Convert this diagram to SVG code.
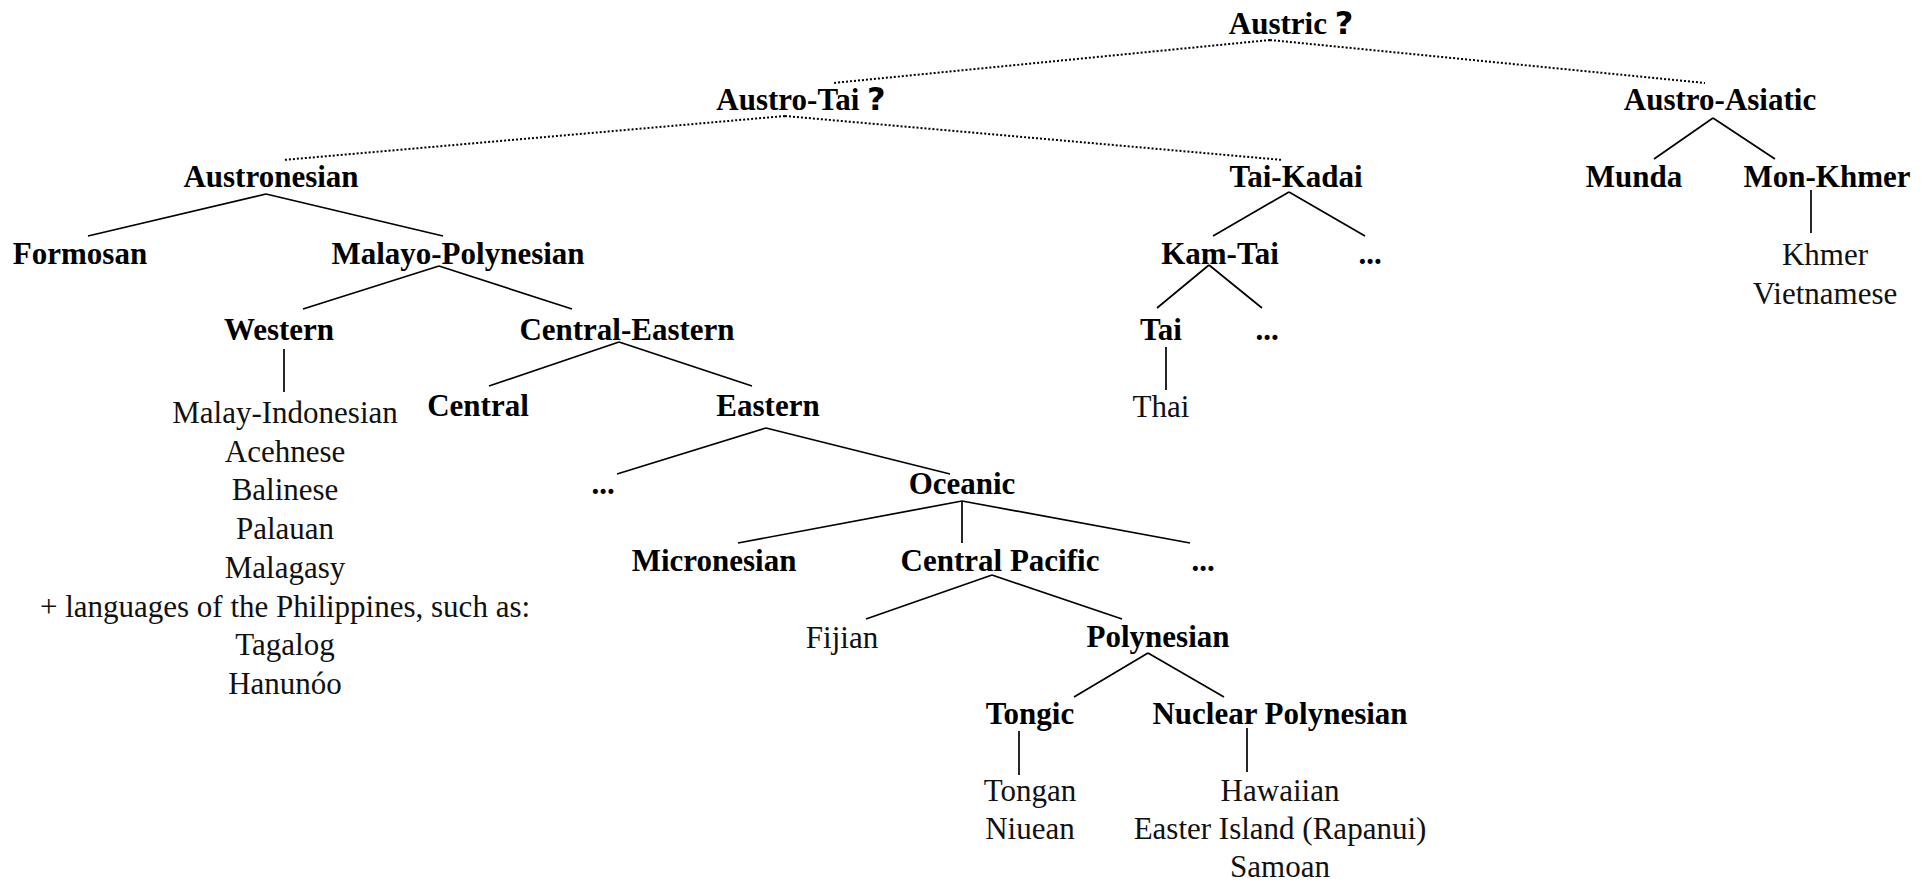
<svg xmlns="http://www.w3.org/2000/svg" width="1921" height="882" viewBox="0 0 1921 882">
<style>
text{font-family:"Liberation Serif","Times New Roman",serif;font-size:31px;fill:#000;text-anchor:middle}
.b{font-weight:bold}
.r{fill:#111}
.q{font-family:"DejaVu Sans",sans-serif;font-size:32px;font-weight:bold}
.s{stroke:#000;stroke-width:1.7;fill:none}
.d{stroke:#000;stroke-width:2;fill:none;stroke-dasharray:2 2}
</style>
<rect width="1921" height="882" fill="#fff"/>
<g id="connectors">
<path class="d" d="M1270 40L833 83M1270 40L1705 83"/>
<path class="d" d="M785 116L283 160M785 116L1283 160"/>
<path class="s" d="M1713 118L1654 159M1713 118L1775 159"/>
<path class="s" d="M266 194L88 236M266 194L443 236"/>
<path class="s" d="M1289 192L1213 236M1289 192L1365 236"/>
<path class="s" d="M1811 190V233"/>
<path class="s" d="M439 266L303 309M439 266L572 309"/>
<path class="s" d="M1209 265L1157 308M1209 265L1262 308"/>
<path class="s" d="M284 349V392"/>
<path class="s" d="M619 342L489 386M619 342L752 386"/>
<path class="s" d="M1166 347V390"/>
<path class="s" d="M766 428L617 474M766 428L950 474"/>
<path class="s" d="M962 501L738 543M962 501V543M962 501L1190 543"/>
<path class="s" d="M992 575L866 619M992 575L1122 619"/>
<path class="s" d="M1148 653L1074 697M1148 653L1224 697"/>
<path class="s" d="M1019 731V775"/>
<path class="s" d="M1247 728V772"/>
</g>
<g id="austric"><text class="b" x="1291" y="34">Austric <tspan class="q">?</tspan></text></g>
<g id="austro-tai"><text class="b" x="801" y="110">Austro-Tai <tspan class="q">?</tspan></text></g>
<g id="austro-asiatic"><text class="b" x="1720" y="110">Austro-Asiatic</text></g>
<g id="austronesian"><text class="b" x="271" y="187">Austronesian</text></g>
<g id="tai-kadai"><text class="b" x="1296" y="187">Tai-Kadai</text></g>
<g id="munda"><text class="b" x="1634" y="187">Munda</text></g>
<g id="mon-khmer"><text class="b" x="1827" y="187">Mon-Khmer</text></g>
<g id="formosan"><text class="b" x="80" y="264">Formosan</text></g>
<g id="malayo-polynesian"><text class="b" x="458" y="264">Malayo-Polynesian</text></g>
<g id="kam-tai"><text class="b" x="1220" y="264">Kam-Tai</text></g>
<g id="tai-kadai-other"><text class="b" x="1370" y="264">...</text></g>
<g id="mon-khmer-langs"><text class="r" x="1825" y="265">Khmer</text><text class="r" x="1825" y="304">Vietnamese</text></g>
<g id="western"><text class="b" x="279" y="340">Western</text></g>
<g id="central-eastern"><text class="b" x="627" y="340">Central-Eastern</text></g>
<g id="tai"><text class="b" x="1161" y="340">Tai</text></g>
<g id="kam-tai-other"><text class="b" x="1267" y="340">...</text></g>
<g id="western-langs">
<text class="r" x="285" y="423">Malay-Indonesian</text>
<text class="r" x="285" y="461.7">Acehnese</text>
<text class="r" x="285" y="500.4">Balinese</text>
<text class="r" x="285" y="539.1">Palauan</text>
<text class="r" x="285" y="577.8">Malagasy</text>
<text class="r" x="285" y="616.5">+ languages of the Philippines, such as:</text>
<text class="r" x="285" y="655.2">Tagalog</text>
<text class="r" x="285" y="693.9">Hanunóo</text>
</g>
<g id="central"><text class="b" x="478" y="416">Central</text></g>
<g id="eastern"><text class="b" x="768" y="416">Eastern</text></g>
<g id="thai"><text class="r" x="1161" y="417">Thai</text></g>
<g id="eastern-other"><text class="b" x="603" y="494">...</text></g>
<g id="oceanic"><text class="b" x="962" y="494">Oceanic</text></g>
<g id="micronesian"><text class="b" x="714" y="571">Micronesian</text></g>
<g id="central-pacific"><text class="b" x="1000" y="571">Central Pacific</text></g>
<g id="oceanic-other"><text class="b" x="1203" y="571">...</text></g>
<g id="fijian"><text class="r" x="842" y="648">Fijian</text></g>
<g id="polynesian"><text class="b" x="1158" y="647">Polynesian</text></g>
<g id="tongic"><text class="b" x="1030" y="724">Tongic</text></g>
<g id="nuclear-polynesian"><text class="b" x="1280" y="724">Nuclear Polynesian</text></g>
<g id="tongic-langs"><text class="r" x="1030" y="801">Tongan</text><text class="r" x="1030" y="839">Niuean</text></g>
<g id="np-langs"><text class="r" x="1280" y="801">Hawaiian</text><text class="r" x="1280" y="839">Easter Island (Rapanui)</text><text class="r" x="1280" y="877">Samoan</text></g>
</svg>
